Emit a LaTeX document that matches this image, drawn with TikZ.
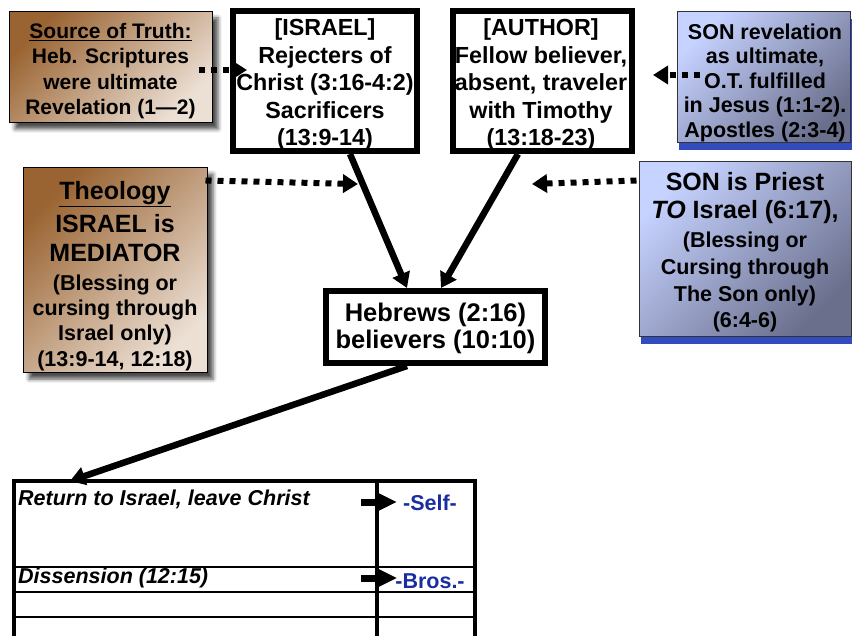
\documentclass[tikz,border=0pt]{standalone}
\usepackage{fontspec}
\setmainfont{Liberation Sans}
\usetikzlibrary{arrows.meta,shadows.blur}
\definecolor{brdark}{RGB}{154,100,50}
\definecolor{brlight}{RGB}{236,224,213}
\definecolor{bllight}{RGB}{198,210,255}
\definecolor{bldark}{RGB}{106,111,140}
\definecolor{blshadow}{RGB}{50,75,190}
\definecolor{txtblue}{RGB}{25,45,160}
\begin{document}
\begin{tikzpicture}[x=1pt,y=-1pt,
  brownbox/.style={draw=black, line width=1pt, top color=brdark, bottom color=brlight, shading angle=45,
    blur shadow={shadow xshift=6pt, shadow yshift=-6pt, shadow blur radius=4pt, shadow opacity=70},
    inner sep=0pt},
  bluebox/.style={draw=black!80, line width=1pt, top color=bllight, bottom color=bldark, shading angle=45,
    preaction={fill=blshadow, transform canvas={xshift=2pt,yshift=-7pt}},
    inner sep=0pt},
  whitebox/.style={draw=black, line width=6pt, fill=white, inner sep=0pt},
  boxtext/.style={align=center, inner sep=0pt},
  solidarrow/.style={line width=6.5pt, -{Triangle[length=15pt,width=18pt]}},
  dotarrow/.style={line width=6pt, dash pattern=on 6pt off 6pt, -{Triangle[length=15pt,width=18pt]}},
  tabarrow/.style={line width=7pt, -{Triangle[length=19pt,width=17pt]}},
  tabtext/.style={font=\fontsize{21.5}{25}\selectfont\bfseries\itshape, anchor=west, inner sep=0pt},
  sidetext/.style={font=\fontsize{21.5}{25}\selectfont\bfseries, text=txtblue, inner sep=0pt}
]
\useasboundingbox (0,0) rectangle (852,636);

% boxes
\node[brownbox, minimum width=203pt, minimum height=111pt] (src) at (110.5,67.5) {};
\node[boxtext, font=\fontsize{21}{25.5}\selectfont\bfseries] (srctxt) at (110.5,71)
  {\underline{Source of Truth:}\\Heb. Scriptures\\were ultimate\\Revelation (1---2)};

\node[whitebox, minimum width=184pt, minimum height=140pt] (israel) at (325,81) {};
\node[boxtext, font=\fontsize{23.3}{27.5}\selectfont\bfseries] (israeltxt) at (325,84.5)
  {[ISRAEL]\\Rejecters of\\Christ (3:16-4:2)\\Sacrificers\\(13:9-14)};

\node[whitebox, minimum width=179pt, minimum height=140pt] (author) at (542.5,81) {};
\node[boxtext, font=\fontsize{23.3}{27.5}\selectfont\bfseries] (authortxt) at (541,84.5)
  {[AUTHOR]\\Fellow believer,\\absent, traveler\\with Timothy\\(13:18-23)};

\node[bluebox, minimum width=173pt, minimum height=131pt] (sonrev) at (763.5,77.5) {};
\node[boxtext, font=\fontsize{21.5}{24.5}\selectfont\bfseries] (sonrevtxt) at (765,82.5)
  {SON revelation\\as ultimate,\\O.T. fulfilled\\in Jesus (1:1-2).\\Apostles (2:3-4)};

\node[brownbox, minimum width=184pt, minimum height=205pt] (theo) at (115,270.5) {};
\node[boxtext, font=\fontsize{21.5}{25}\selectfont\bfseries] (theotxt) at (115,276)
  {{\fontsize{25}{30}\selectfont\underline{Theology}}\\[6pt]
   {\fontsize{25}{30}\selectfont ISRAEL is}\\[4pt]
   {\fontsize{25}{30}\selectfont MEDIATOR}\\[4pt]
   (Blessing or\\cursing through\\Israel only)\\[1pt](13:9-14, 12:18)};

\node[bluebox, minimum width=212pt, minimum height=175pt] (sonpriest) at (745,249.5) {};
\node[boxtext, font=\fontsize{21.5}{26}\selectfont\bfseries] (sonpriesttxt) at (745,252.5)
  {{\fontsize{25}{28}\selectfont SON is Priest}\\[2pt]
   {\fontsize{25}{28}\selectfont\textit{TO} Israel (6:17),}\\[3pt]
   (Blessing or\\[1pt]Cursing through\\[1pt]The Son only)\\(6:4-6)};

\node[whitebox, minimum width=219pt, minimum height=72pt] (heb) at (435.5,327) {};
\node[boxtext, font=\fontsize{25.5}{27}\selectfont\bfseries] (hebtxt) at (435.5,328)
  {Hebrews (2:16)\\believers (10:10)};

% table
\draw[line width=4pt] (14,640) -- (14,481) -- (475,481) -- (475,640);
\draw[line width=4pt] (377,481) -- (377,640);
\draw[line width=1.2pt] (14,567) -- (475,567);
\draw[line width=1.2pt] (14,592) -- (475,592);
\draw[line width=1.2pt] (14,617) -- (475,617);
\coordinate (tabletop) at (70,481);

\node[tabtext] (row1) at (18,499) {Return to Israel, leave Christ};
\node[tabtext] (row2) at (18,578) {Dissension (12:15)};
\node[sidetext] (self) at (430,503) {-Self-};
\node[sidetext] (bros) at (430,581) {-Bros.-};
\coordinate (a1) at (361,502);
\coordinate (a2) at (361,578);
\draw[tabarrow] (a1) -- ([xshift=-6pt,yshift=1pt]self.west);
\draw[tabarrow] (a2) -- ([xshift=2pt,yshift=3pt]bros.west);

% solid arrows
\draw[solidarrow] ([xshift=25pt]israel.south) -- ([xshift=-28.5pt]heb.north);
\draw[solidarrow] ([xshift=-24.5pt]author.south) -- ([xshift=5.5pt]heb.north);
\draw[solidarrow] ([xshift=-28.5pt]heb.south) -- (tabletop);

% dotted arrows
\draw[dotarrow] ([xshift=-14pt,yshift=-2.5pt]src.east) -- ([xshift=17pt,yshift=11pt]israel.west);
\draw[dotarrow] ([xshift=23pt,yshift=2.5pt]sonrev.west) -- ([xshift=18pt,yshift=6pt]author.east);
\draw[dotarrow] ([xshift=-2pt,yshift=-13pt]theo.north east) -- ([xshift=33pt,yshift=-30pt]israel.south);
\draw[dotarrow] ([xshift=-2pt,yshift=-19pt]sonpriest.north west) -- ([xshift=-10.5pt,yshift=-30pt]author.south);
\end{tikzpicture}
\end{document}
